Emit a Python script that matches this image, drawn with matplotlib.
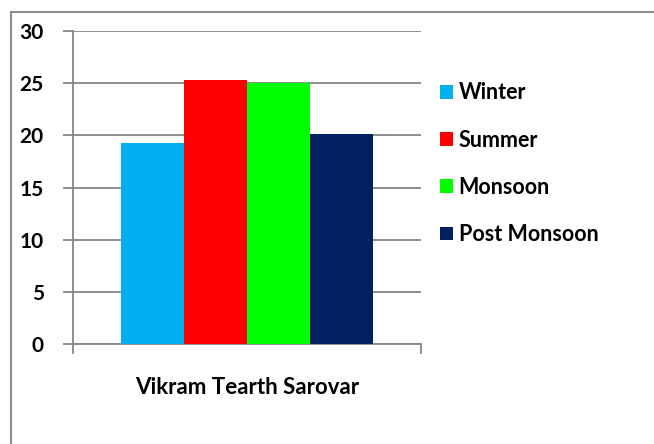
import matplotlib
matplotlib.use("Agg")
import matplotlib.pyplot as plt
from matplotlib.lines import Line2D

categories = ["Vikram Tearth Sarovar"]
series = ["Winter", "Summer", "Monsoon", "Post Monsoon"]
values = [19.3, 25.35, 25.0, 20.1]
colors = ["#00b0f0", "#ff0000", "#00ff00", "#002060"]
yticks = [0, 5, 10, 15, 20, 25, 30]

plt.rcParams['font.family'] = ['Lato', 'DejaVu Sans']
plt.rcParams['font.weight'] = 'bold'

W, H = 654, 444
fig = plt.figure(figsize=(W / 100, H / 100), dpi=100)
ax = fig.add_axes([73 / W, 1 - 344 / H, (421 - 73) / W, (344 - 31) / H])

bw = 63 / 348
n = len(series)
for i, (s, v, c) in enumerate(zip(series, values, colors)):
    ax.bar(0 + (i - (n - 1) / 2) * bw, v, width=bw, color=c, label=s, zorder=3)

ax.set_xlim(-0.5, 0.5)
ax.set_ylim(0, 30)
ax.set_yticks(yticks)
ax.set_yticklabels([str(t) for t in yticks], fontsize=15, fontweight='bold')
ax.yaxis.grid(True, color='#868686', linewidth=1.3, zorder=0)
ax.set_xticks([0])
ax.set_xticklabels(categories, fontsize=16, fontweight='bold')
ax.tick_params(axis='x', which='major', length=0, pad=24)
ax.set_xticks([-0.5, 0.5], minor=True)
ax.tick_params(axis='x', which='minor', length=7, color='#868686', width=1.3)
ax.tick_params(axis='y', length=7, color='#868686', width=1.3, pad=14)
for sp in ['top', 'right']:
    ax.spines[sp].set_visible(False)
for sp in ['left', 'bottom']:
    ax.spines[sp].set_color('#868686')
    ax.spines[sp].set_linewidth(1.3)

leg = fig.legend(loc='upper left', bbox_to_anchor=(421 / W, 1 - 63 / H),
                 frameon=False, handlelength=0.6, handleheight=0.6,
                 handletextpad=0.25, labelspacing=1.22,
                 prop={'weight': 'bold', 'size': 15.5})

# outer chart border (left and top only visible)
fig.add_artist(Line2D([11 / W, 11 / W], [0, 1 - 12 / H], transform=fig.transFigure,
                      color='#8c8c8c', linewidth=1.5))
fig.add_artist(Line2D([11 / W, 1], [1 - 12 / H, 1 - 12 / H], transform=fig.transFigure,
                      color='#8c8c8c', linewidth=1.5))

fig.savefig("out.png", dpi=100, facecolor='white')
